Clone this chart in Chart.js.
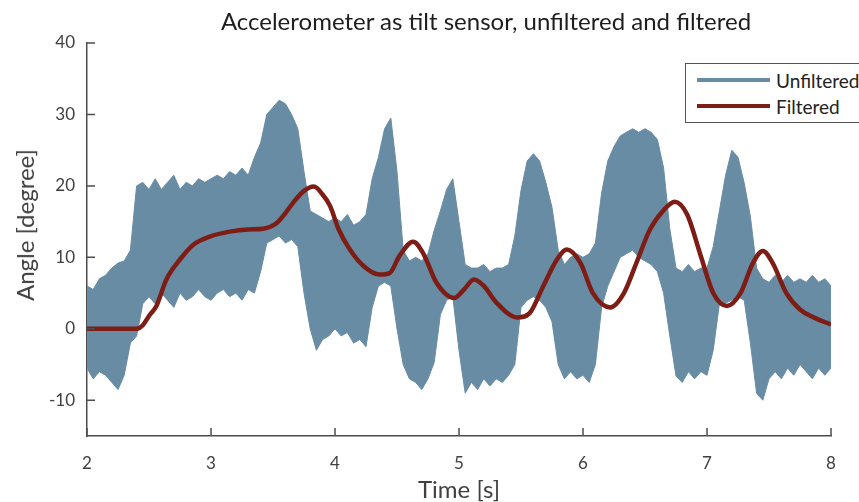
<!DOCTYPE html>
<html>
<head>
<meta charset="utf-8">
<script src="https://cdn.jsdelivr.net/npm/chart.js@4.4.1/dist/chart.umd.min.js"></script>
<style>
  html, body { margin: 0; padding: 0; background: #fff; }
  body { width: 859px; height: 502px; overflow: hidden; position: relative; font-family: Lato, sans-serif; }
  #chartBox { position: absolute; left: 0; top: 0; width: 859px; height: 502px; }
  #title { position: absolute; top: 6px; left: 486px; transform: translateX(-50%); white-space: nowrap;
           font-size: 24px; line-height: 29px; color: #1e1e1e; }
  #yTitle { position: absolute; left: 25px; top: 225px; transform: translate(-50%, -50%) rotate(-90deg);
            white-space: nowrap; font-size: 24px; line-height: 28px; color: #404040; }
  #legend { position: absolute; left: 685px; top: 63px; width: 200px; height: 58px;
            border: 1.5px solid #555; background: #fff; }
  .legend-row { position: absolute; left: 11px; height: 22px; display: flex; align-items: center; }
  .legend-line { width: 73px; height: 4px; margin-right: 6px; }
  .legend-text { font-size: 19px; color: #222; }
</style>
</head>
<body>
<div id="chartBox"><canvas id="tiltChart" width="859" height="502"></canvas></div>
<div id="title">Accelerometer as tilt sensor, unfiltered and filtered</div>
<div id="yTitle">Angle [degree]</div>
<div id="legend">
  <div class="legend-row" style="top: 5px;"><div class="legend-line" style="background:#688ca3"></div><span class="legend-text">Unfiltered</span></div>
  <div class="legend-row" style="top: 31px;"><div class="legend-line" style="background:#7e1d16"></div><span class="legend-text">Filtered</span></div>
</div>
<script>
// Данные
const xTicks = [2, 3, 4, 5, 6, 7, 8];
const yTicks = [-10, 0, 10, 20, 30, 40];

// Нефильтрованный сигнал: верхняя и нижняя огибающая шума
const rawTime = [
  2.00, 2.05, 2.10, 2.15, 2.20, 2.25, 2.30, 2.35, 2.40, 2.45,
  2.50, 2.55, 2.60, 2.65, 2.70, 2.75, 2.80, 2.85, 2.90, 2.95,
  3.00, 3.05, 3.10, 3.15, 3.20, 3.25, 3.30, 3.35, 3.40, 3.45,
  3.50, 3.55, 3.60, 3.65, 3.70, 3.75, 3.80, 3.85, 3.90, 3.95,
  4.00, 4.05, 4.10, 4.15, 4.20, 4.25, 4.30, 4.35, 4.40, 4.45,
  4.50, 4.55, 4.60, 4.65, 4.70, 4.75, 4.80, 4.85, 4.90, 4.95,
  5.00, 5.05, 5.10, 5.15, 5.20, 5.25, 5.30, 5.35, 5.40, 5.45,
  5.50, 5.55, 5.60, 5.65, 5.70, 5.75, 5.80, 5.85, 5.90, 5.95,
  6.00, 6.05, 6.10, 6.15, 6.20, 6.25, 6.30, 6.35, 6.40, 6.45,
  6.50, 6.55, 6.60, 6.65, 6.70, 6.75, 6.80, 6.85, 6.90, 6.95,
  7.00, 7.05, 7.10, 7.15, 7.20, 7.25, 7.30, 7.35, 7.40, 7.45,
  7.50, 7.55, 7.60, 7.65, 7.70, 7.75, 7.80, 7.85, 7.90, 7.95,
  8.00
];
const rawUpper = [
  6.0, 5.5, 7.0, 7.5, 8.5, 9.2, 9.5, 11, 20, 20.5,
  19.5, 21, 19.5, 20.5, 21.5, 19.5, 20.5, 20, 21, 20.5,
  21, 21.5, 21, 22, 21.5, 22.5, 21.5, 24, 26, 30,
  31, 32, 31.5, 30, 28, 22, 16.5, 16, 15.5, 15,
  15.5, 15, 16, 14.5, 15, 16, 21, 24, 28, 29.5,
  22, 11, 9.5, 10, 9.5, 10.5, 13.8, 16.5, 19.5, 21,
  15, 9, 8.5, 8.5, 9, 8, 8.5, 8.5, 9, 13,
  19.4, 23.5, 24.5, 23.5, 20.5, 17, 11, 9, 10, 10.5,
  10, 10.5, 12, 19, 23.5, 25.5, 27, 27.5, 28, 27.5,
  28, 27.5, 26.5, 22.5, 14, 8.5, 8, 9, 8, 8.5,
  8.5, 11.5, 16.5, 21.5, 25, 24, 20.4, 15.7, 8.5, 7,
  6.5, 7.5, 6.5, 7.5, 6.5, 7, 6.5, 7.5, 6.5, 7,
  6
];
const rawLower = [
  -5.5, -7, -6, -6.5, -7.5, -8.5, -6.5, -2, -1, 3.5,
  4.5, 3.5, 5, 4, 3, 5, 4, 4.5, 5.5, 4.5,
  4, 5, 5.5, 4.5, 5, 4, 5.5, 5, 8, 12,
  12.5, 13, 12, 12.5, 11.5, 5, 0, -3, -1.5, -1,
  0, -1, -0.5, -2, -1.5, -2.5, 3, 6, 6.5, 6,
  0, -5, -7, -7.5, -8.5, -7, -4.7, 2, 4, 4.5,
  -3, -9, -7.5, -8.5, -7, -8, -7, -7.5, -6.5, -5,
  3, 4, 4.5, 4, 3, 1, -5, -7, -6, -7,
  -6.5, -7.5, -5, 3, 6, 8, 10, 10.5, 11, 10,
  9.5, 9, 8, 5, -1, -6.6, -7.5, -6, -7, -6,
  -6.5, -3, 3.5, 3.6, 4, 4.5, 4, -2, -9, -10,
  -7, -6, -7, -5.5, -6.5, -5, -6, -7, -5.5, -6.5,
  -5.5
];

// Отфильтрованный сигнал
const filtTime = [
  2.00, 2.20, 2.40, 2.45, 2.50, 2.56, 2.64, 2.75, 2.86, 2.99,
  3.15, 3.30, 3.42, 3.53, 3.60, 3.66, 3.75, 3.83, 3.90, 3.96,
  4.03, 4.12, 4.23, 4.36, 4.44, 4.52, 4.63, 4.71, 4.82, 4.96,
  5.04, 5.12, 5.20, 5.30, 5.47, 5.57, 5.68, 5.79, 5.87, 5.98,
  6.08, 6.22, 6.33, 6.43, 6.54, 6.65, 6.74, 6.84, 6.95, 7.05,
  7.16, 7.27, 7.37, 7.45, 7.53, 7.64, 7.75, 7.86, 8.00
];
const filtValue = [
  0, 0, 0, 0.5, 1.8, 3.2, 6.9, 9.7, 11.8, 12.9,
  13.6, 13.9, 14.0, 14.8, 16.2, 17.6, 19.3, 19.9, 18.8, 17.2,
  13.9, 11.1, 8.8, 7.6, 7.8, 10.2, 12.2, 10.6, 6.4, 4.3,
  5.5, 6.9, 6.0, 3.7, 1.6, 2.2, 6.0, 9.7, 11.1, 9.2,
  5.0, 3.0, 5.0, 9.2, 13.9, 16.6, 17.8, 16.0, 10.2, 5.0,
  3.2, 5.0, 9.2, 10.9, 9.2, 5.0, 2.7, 1.6, 0.6
];

const blueColor = '#688ca3';
const redColor = '#7e1d16';
const axisColor = '#4d4d4d';
const textColor = '#404040';

function toPoints(xs, ys) {
    return xs.map((x, i) => ({ x: x, y: ys[i] }));
}

// Засечки внутрь области графика, как в MATLAB
const innerTicks = {
    id: 'innerTicks',
    afterDraw(chart) {
        const { ctx, chartArea, scales: { x, y } } = chart;
        ctx.save();
        ctx.strokeStyle = axisColor;
        ctx.lineWidth = 1.5;
        ctx.beginPath();
        x.ticks.forEach(t => {
            const px = x.getPixelForValue(t.value);
            ctx.moveTo(px, chartArea.bottom);
            ctx.lineTo(px, chartArea.bottom - 8);
        });
        y.ticks.forEach(t => {
            const py = y.getPixelForValue(t.value);
            ctx.moveTo(chartArea.left, py);
            ctx.lineTo(chartArea.left + 8, py);
        });
        ctx.stroke();
        ctx.restore();
    }
};

new Chart(document.getElementById('tiltChart'), {
    type: 'line',
    data: {
        datasets: [
            {
                label: 'Filtered',
                data: toPoints(filtTime, filtValue),
                borderColor: redColor,
                borderWidth: 4.5,
                pointRadius: 0,
                cubicInterpolationMode: 'monotone',
                fill: false,
                order: 0
            },
            {
                label: 'Unfiltered',
                data: toPoints(rawTime, rawUpper),
                borderColor: blueColor,
                backgroundColor: blueColor,
                borderWidth: 1,
                pointRadius: 0,
                tension: 0,
                fill: '+1',
                order: 1
            },
            {
                label: 'Unfiltered (low)',
                data: toPoints(rawTime, rawLower),
                borderColor: blueColor,
                borderWidth: 1,
                pointRadius: 0,
                tension: 0,
                fill: false,
                order: 2
            }
        ]
    },
    options: {
        responsive: false,
        animation: false,
        devicePixelRatio: 1,
        layout: {
            padding: { top: 43, right: 28, left: 0, bottom: 0 }
        },
        plugins: {
            legend: { display: false },
            tooltip: { enabled: false }
        },
        scales: {
            x: {
                type: 'linear',
                min: 2,
                max: 8,
                afterFit: s => { s.height = 66; },
                afterBuildTicks: s => { s.ticks = xTicks.map(v => ({ value: v })); },
                grid: { display: false, drawTicks: false },
                border: { display: true, color: axisColor, width: 1.5 },
                ticks: {
                    color: textColor,
                    padding: 17,
                    maxRotation: 0,
                    font: { family: 'Lato', size: 17 }
                },
                title: {
                    display: true,
                    text: 'Time [s]',
                    color: textColor,
                    padding: { top: 0, bottom: 0 },
                    font: { family: 'Lato', size: 24, lineHeight: 1 }
                }
            },
            y: {
                type: 'linear',
                min: -15,
                max: 40,
                afterFit: s => { s.width = 87; },
                afterBuildTicks: s => { s.ticks = yTicks.map(v => ({ value: v })); },
                grid: { display: false, drawTicks: false },
                border: { display: true, color: axisColor, width: 1.5 },
                ticks: {
                    color: textColor,
                    padding: 12,
                    font: { family: 'Lato', size: 17 }
                },
                title: { display: false }
            }
        }
    },
    plugins: [innerTicks]
});
</script>
</body>
</html>
